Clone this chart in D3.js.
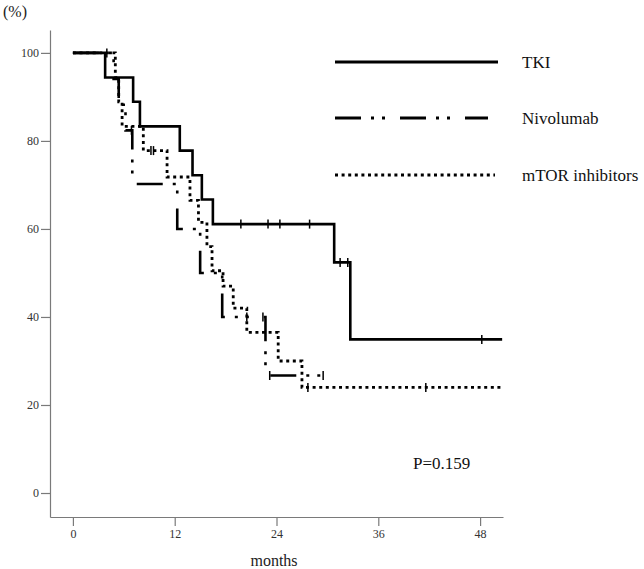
<!DOCTYPE html>
<html>
<head>
<meta charset="utf-8">
<script src="https://cdn.jsdelivr.net/npm/d3@7"></script>
<style>
  body { margin: 0; background: #fff; }
  svg { display: block; }
  svg text { font-family: "Liberation Serif", "DejaVu Serif", serif; }
</style>
</head>
<body>
<svg width="644" height="569"></svg>
<script>
// survival steps: [month, percent]
const tkiSteps = [[0, 100], [3.8, 94.4], [7.1, 88.9], [7.9, 83.3], [12.6, 77.8], [14.1, 72.2],
    [15.2, 66.7], [16.5, 61.1], [30.8, 52.4], [32.7, 34.9]];
const tkiCensored = [[19.8, 61.1], [23.0, 61.1], [24.4, 61.1], [27.9, 61.1], [31.5, 52.4], [32.4, 52.4], [48.2, 34.9]];
const tkiEnd = 50.6;

const nivoSteps = [[0, 100], [4.8, 94.1], [5.4, 88.2], [6.2, 82.4], [7.0, 70.2], [12.3, 60.0],
    [15.0, 50.0], [17.6, 40.0], [22.7, 26.7]];
const nivoCensored = [[4.0, 100], [6.9, 82.4], [20.5, 40.0], [22.4, 40.0], [23.2, 26.7], [29.5, 26.7]];
const nivoEnd = 29.5;

const mtorSteps = [[0, 100], [5.0, 94.4], [5.4, 88.9], [5.8, 83.3], [8.3, 77.8], [11.1, 71.8],
    [13.8, 66.5], [14.8, 61.5], [15.8, 56.0], [16.4, 50.5], [17.7, 47.0], [18.9, 42.0],
    [20.5, 36.5], [24.2, 30.0], [27.0, 24.0]];
const mtorCensored = [[9.2, 77.8], [9.5, 77.8], [27.7, 24.0], [41.6, 24.0]];
const mtorEnd = 50.6;

const xTicks = [0, 12, 24, 36, 48];
const yTicks = [0, 20, 40, 60, 80, 100];
const seriesNames = ["TKI", "Nivolumab", "mTOR inhibitors"];
const pText = "P=0.159";

const serif = "'Liberation Serif', 'DejaVu Serif', serif";
const svg = d3.select("svg");

const scX = d3.scaleLinear().domain([-2.7, 50.7]).range([50, 503]);
const scY = d3.scaleLinear().domain([-5.45, 105.2]).range([517, 30]);

const series = [
    { steps: tkiSteps, cens: tkiCensored, end: tkiEnd, dash: null, width: 2.6 },
    { steps: nivoSteps, cens: nivoCensored, end: nivoEnd, dash: "26,10,3,8,3,15", width: 2.6 },
    { steps: mtorSteps, cens: mtorCensored, end: mtorEnd, dash: "3,3.6", width: 2.8 }
];

// axes
const axisY = svg.append("g")
    .attr("transform", "translate(50,0)")
    .call(d3.axisLeft(scY).tickValues(yTicks).tickSize(9).tickSizeOuter(0).tickPadding(2));

const axisX = svg.append("g")
    .attr("transform", "translate(0,517)")
    .call(d3.axisBottom(scX).tickValues(xTicks).tickSize(9).tickSizeOuter(0).tickPadding(3));

[axisY, axisX].forEach(ax => {
    ax.attr("font-family", serif);
    ax.selectAll("path, line").attr("stroke", "#7a7a7a").attr("stroke-width", 1.2);
    ax.selectAll("text")
        .attr("fill", "#333")
        .style("font-family", serif)
        .style("font-size", "12px");
});

svg.append("text")
    .attr("x", 3).attr("y", 17)
    .style("font-family", serif)
    .style("font-size", "16px").attr("fill", "#222")
    .text("(%)");

svg.append("text")
    .attr("x", 274).attr("y", 566)
    .attr("text-anchor", "middle")
    .style("font-family", serif)
    .style("font-size", "16px").attr("fill", "#222")
    .text("months");

// curves
const line = d3.line()
    .x(d => scX(d[0]))
    .y(d => scY(d[1]))
    .curve(d3.curveStepAfter);

series.forEach(s => {
    const pts = s.steps.concat([[s.end, s.steps[s.steps.length - 1][1]]]);
    svg.append("path")
        .datum(pts)
        .attr("fill", "none")
        .attr("stroke", "#000")
        .attr("stroke-width", s.width)
        .attr("stroke-dasharray", s.dash)
        .attr("d", line);

    svg.selectAll(null)
        .data(s.cens)
        .enter()
        .append("line")
        .attr("x1", d => scX(d[0]))
        .attr("x2", d => scX(d[0]))
        .attr("y1", d => scY(d[1]) - 4.5)
        .attr("y2", d => scY(d[1]) + 4.5)
        .attr("stroke", "#000")
        .attr("stroke-width", 1.5);
});

// legend
const legendY = [62, 118, 175];
const legendX2 = [498, 488, 495];
series.forEach((s, i) => {
    svg.append("line")
        .attr("x1", 335).attr("x2", legendX2[i])
        .attr("y1", legendY[i]).attr("y2", legendY[i])
        .attr("stroke", "#000")
        .attr("stroke-width", 3)
        .attr("stroke-dasharray", s.dash);

    svg.append("text")
        .attr("x", 522).attr("y", legendY[i] + 6)
        .style("font-family", serif)
        .style("font-size", "17px").attr("fill", "#111")
        .text(seriesNames[i]);
});

svg.append("text")
    .attr("x", 413).attr("y", 469)
    .style("font-family", serif)
    .style("font-size", "17px").attr("fill", "#111")
    .text(pText);
</script>
</body>
</html>
